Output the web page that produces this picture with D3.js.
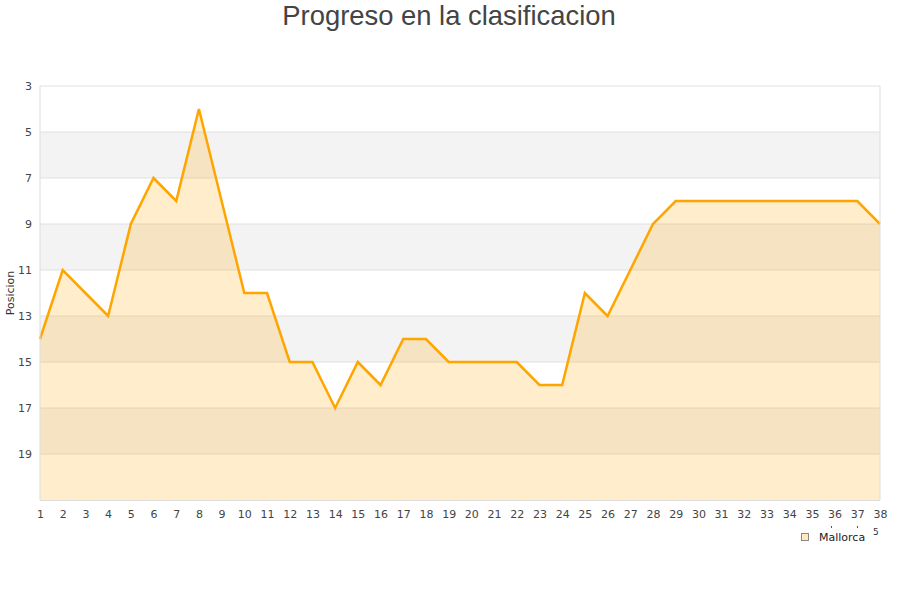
<!DOCTYPE html>
<html>
<head>
<meta charset="utf-8">
<script src="https://cdn.jsdelivr.net/npm/d3@7"></script>
<style>
  body { margin: 0; background: #fff; }
  svg { display: block; }
</style>
</head>
<body>
<div id="chart"></div>
<script>
var jornadas = d3.range(1, 39);
var posiciones = [14, 11, 12, 13, 9, 7, 8, 4, 8, 12, 12, 15, 15, 17, 15, 16, 14, 14, 15, 15,
                  15, 15, 16, 16, 12, 13, 11, 9, 8, 8, 8, 8, 8, 8, 8, 8, 8, 9];
var yTicks = [3, 5, 7, 9, 11, 13, 15, 17, 19];
var bandas = [[5, 7], [9, 11], [13, 15], [17, 19]];
var serie = 'Mallorca';

var width = 900, height = 600;
var margin = { top: 86, right: 20, bottom: 100, left: 40 };

var x = d3.scaleLinear()
    .domain([1, 38])
    .range([margin.left, width - margin.right]);
var y = d3.scaleLinear()
    .domain([3, 21])
    .range([margin.top, height - margin.bottom]);

var svg = d3.select('#chart')
    .append('svg')
    .attr('width', width)
    .attr('height', height);

// bandas grises
svg.append('g')
    .selectAll('rect').data(bandas).enter().append('rect')
    .attr('x', x(1))
    .attr('y', d => y(d[0]))
    .attr('width', x(38) - x(1))
    .attr('height', d => y(d[1]) - y(d[0]))
    .attr('fill', '#f3f3f3');

// rejilla
svg.append('g')
    .selectAll('line').data(yTicks).enter().append('line')
    .attr('x1', x(1)).attr('x2', x(38))
    .attr('y1', d => y(d)).attr('y2', d => y(d))
    .attr('stroke', '#e0e0e0')
    .attr('stroke-width', 1);

var datos = jornadas.map((j, i) => ({ j: j, p: posiciones[i] }));

svg.append('path')
    .datum(datos)
    .attr('fill', '#ffa500')
    .attr('fill-opacity', 0.2)
    .attr('d', d3.area()
        .x(d => x(d.j))
        .y0(y(21))
        .y1(d => y(d.p)));

svg.append('path')
    .datum(datos)
    .attr('fill', 'none')
    .attr('stroke', '#ffa500')
    .attr('stroke-width', 2.5)
    .attr('stroke-linejoin', 'miter')
    .attr('d', d3.line()
        .x(d => x(d.j))
        .y(d => y(d.p)));

// bordes
svg.append('g')
    .selectAll('line').data([1, 38]).enter().append('line')
    .attr('x1', d => x(d)).attr('x2', d => x(d))
    .attr('y1', y(3)).attr('y2', y(21))
    .attr('stroke', '#dddddd');
svg.append('line')
    .attr('x1', x(1)).attr('x2', x(38))
    .attr('y1', y(21) + 0.5).attr('y2', y(21) + 0.5)
    .attr('stroke', '#dddddd');

var yAxis = g => g
    .attr('transform', `translate(${margin.left - 8},0)`)
    .call(d3.axisLeft(y).tickValues(yTicks).tickSize(0).tickPadding(0))
    .call(g => g.select('.domain').remove());
var xAxis = g => g
    .attr('transform', `translate(0,${height - margin.bottom + 10})`)
    .call(d3.axisBottom(x).tickValues(jornadas).tickFormat(d3.format('d')).tickSize(0).tickPadding(0))
    .call(g => g.select('.domain').remove());

svg.append('g').call(yAxis)
    .selectAll('text')
    .attr('font-family', 'DejaVu Sans')
    .attr('font-size', 11)
    .attr('fill', '#444');
svg.append('g').call(xAxis)
    .selectAll('text')
    .attr('font-family', 'DejaVu Sans')
    .attr('font-size', 11)
    .attr('fill', '#444');

svg.append('text')
    .attr('transform', 'translate(14,293) rotate(-90)')
    .attr('text-anchor', 'middle')
    .attr('font-family', 'DejaVu Sans')
    .attr('font-size', 11)
    .attr('fill', '#333')
    .text('Posicion');

svg.append('text')
    .attr('x', 449).attr('y', 25)
    .attr('text-anchor', 'middle')
    .attr('font-family', 'Liberation Sans')
    .attr('font-size', 27.4)
    .attr('fill', '#444')
    .text('Progreso en la clasificacion');

// leyenda
svg.append('rect')
    .attr('x', 801.5).attr('y', 533.5)
    .attr('width', 7).attr('height', 7)
    .attr('fill', '#fde8c0')
    .attr('stroke', '#888');
svg.append('text')
    .attr('x', 819).attr('y', 541)
    .attr('font-family', 'DejaVu Sans')
    .attr('font-size', 11)
    .attr('fill', '#222')
    .text(serie);
svg.append('text')
    .attr('x', 873).attr('y', 535)
    .attr('font-family', 'DejaVu Sans')
    .attr('font-size', 9)
    .attr('fill', '#333')
    .text('5');
svg.append('g')
    .selectAll('rect').data([831, 857]).enter().append('rect')
    .attr('x', d => d).attr('y', 526)
    .attr('width', 1).attr('height', 2)
    .attr('fill', '#555');
</script>
</body>
</html>
